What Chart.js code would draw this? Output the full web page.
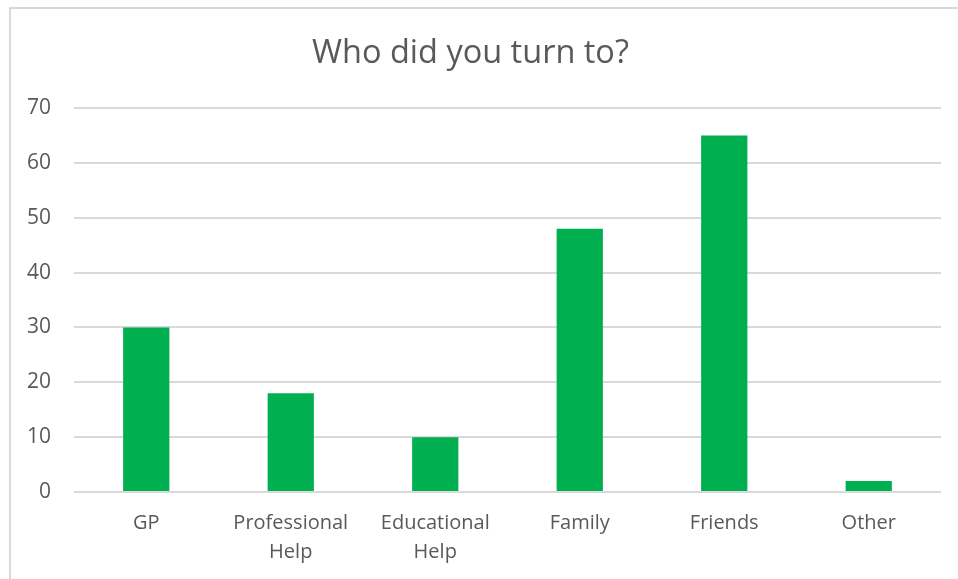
<!DOCTYPE html>
<html>
<head>
<meta charset="utf-8">
<script src="https://cdn.jsdelivr.net/npm/chart.js@4"></script>
<style>
  html, body { margin: 0; padding: 0; background: #fff; overflow: hidden; }
  #wrap { position: absolute; left: 0; top: 0; width: 958px; height: 579px; }
  #frame { position: absolute; left: 9px; top: 7px; width: 1000px; height: 1000px; border: 2px solid #d9d9d9; box-sizing: border-box; pointer-events: none; }
</style>
</head>
<body>
<div id="wrap"><canvas id="c"></canvas></div>
<div id="frame"></div>
<script>
const chartTitle = "Who did you turn to?";
const categories = ["GP", ["Professional", "Help"], ["Educational", "Help"], "Family", "Friends", "Other"];
const values = [30, 18, 10, 48, 65, 2];
const yTicks = [0, 10, 20, 30, 40, 50, 60, 70];

const FONT = "'Open Sans', 'Noto Sans', sans-serif";
const TEXT = "#595959";
const GRID = "#d9d9d9";

new Chart(document.getElementById('c'), {
  type: 'bar',
  data: {
    labels: categories,
    datasets: [{
      data: values,
      backgroundColor: '#00B050',
      borderWidth: 0,
      barPercentage: 0.32,
      categoryPercentage: 1.0
    }]
  },
  options: {
    responsive: true,
    maintainAspectRatio: false,
    animation: false,
    devicePixelRatio: 1,
    layout: { padding: { left: 0, right: 17, top: 0, bottom: 0 } },
    plugins: {
      legend: { display: false },
      tooltip: { enabled: false },
      title: {
        display: true,
        text: chartTitle,
        color: TEXT,
        font: { family: FONT, size: 32.5, weight: 'normal', lineHeight: 1.2 },
        padding: { top: 34, bottom: 35 }
      }
    },
    scales: {
      x: {
        grid: { display: false },
        border: { display: false },
        ticks: {
          color: TEXT,
          font: { family: FONT, size: 20, lineHeight: 1.45 },
          padding: 9,
          maxRotation: 0,
          autoSkip: false
        },
        afterFit: (s) => { s.height = 87; }
      },
      y: {
        min: 0,
        max: 70,
        afterBuildTicks: (s) => { s.ticks = yTicks.map(v => ({ value: v })); },
        grid: { color: GRID, lineWidth: 2, drawTicks: false },
        border: { display: false },
        ticks: {
          color: TEXT,
          font: { family: FONT, size: 21 },
          padding: 23
        },
        afterFit: (s) => { s.width = 74; }
      }
    }
  }
});
</script>
</body>
</html>
